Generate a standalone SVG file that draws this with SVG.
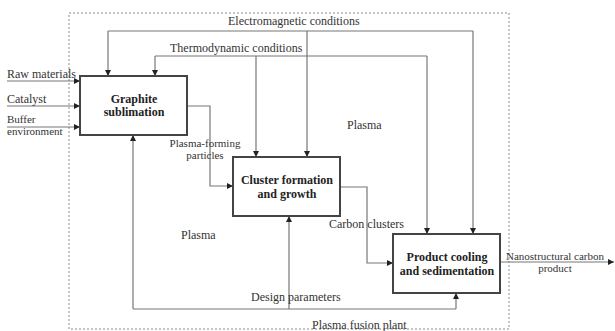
<svg xmlns="http://www.w3.org/2000/svg" width="615" height="331" viewBox="0 0 615 331">
<defs>
<marker id="ah" viewBox="0 0 8 8" refX="8" refY="4" markerWidth="6" markerHeight="6" markerUnits="userSpaceOnUse" orient="auto">
<path d="M0,0 L8,4 L0,8 z" fill="#222"/>
</marker>
<style>
.t{font-family:"Liberation Serif","Times New Roman",serif;font-size:12px;fill:#333}
.s{font-size:11px}
.b{font-family:"Liberation Serif","Times New Roman",serif;font-size:12px;font-weight:bold;fill:#222;text-anchor:middle}
.c{fill:none;stroke:#777;stroke-width:1.2}
.ca{fill:none;stroke:#777;stroke-width:1.2;marker-end:url(#ah)}
.box{fill:#fff;stroke:#444;stroke-width:2}
</style>
</defs>
<rect width="615" height="331" fill="#fff"/>
<rect id="plant" x="69" y="13" width="440" height="316" fill="none" stroke="#888" stroke-width="1" stroke-dasharray="2,2"/>
<g id="connectors">
<path class="c" d="M108,31 H473"/>
<path class="ca" d="M108,31 V76"/>
<path class="ca" d="M307,31 V157"/>
<path class="ca" d="M473,31 V234"/>
<path class="c" d="M155,56 H427"/>
<path class="ca" d="M155,56 V76"/>
<path class="ca" d="M256,56 V157"/>
<path class="ca" d="M427,56 V234"/>
<path class="ca" d="M7,81 H80"/>
<path class="ca" d="M7,106 H80"/>
<path class="ca" d="M7,127 H80"/>
<path class="ca" d="M187,106 H210 V186 H233"/>
<path class="ca" d="M340,187 H367 V263 H393"/>
<path class="c" d="M133,309 H456"/>
<path class="ca" d="M133,309 V135"/>
<path class="ca" d="M289,309 V216"/>
<path class="ca" d="M456,309 V293"/>
<path class="ca" d="M500,262 H614"/>
</g>
<g id="graphite">
<rect class="box" x="80" y="76" width="107" height="59"/>
<text class="b" x="134" y="103">Graphite</text>
<text class="b" x="134" y="116">sublimation</text>
</g>
<g id="cluster">
<rect class="box" x="233" y="157" width="107" height="59"/>
<text class="b" x="287" y="184">Cluster formation</text>
<text class="b" x="287" y="198">and growth</text>
</g>
<g id="product">
<rect class="box" x="393" y="234" width="107" height="59"/>
<text class="b" x="447" y="261">Product cooling</text>
<text class="b" x="447" y="275">and sedimentation</text>
</g>
<g id="labels">
<text class="t" x="228" y="25">Electromagnetic conditions</text>
<text class="t" x="170" y="52">Thermodynamic conditions</text>
<text class="t" x="7" y="78">Raw materials</text>
<text class="t" x="7" y="103">Catalyst</text>
<text class="t s" x="7" y="122.5">Buffer</text>
<text class="t s" x="7" y="135">environment</text>
<text class="t s" x="205" y="146.5" text-anchor="middle">Plasma-forming</text>
<text class="t s" x="205" y="159" text-anchor="middle">particles</text>
<text class="t" x="347" y="129">Plasma</text>
<text class="t" x="181" y="239">Plasma</text>
<text class="t" x="329" y="228">Carbon clusters</text>
<text class="t" x="251" y="301">Design parameters</text>
<text class="t" x="312" y="329">Plasma fusion plant</text>
<text class="t s" x="555" y="259.5" text-anchor="middle">Nanostructural carbon</text>
<text class="t s" x="555" y="272" text-anchor="middle">product</text>
</g>
</svg>
